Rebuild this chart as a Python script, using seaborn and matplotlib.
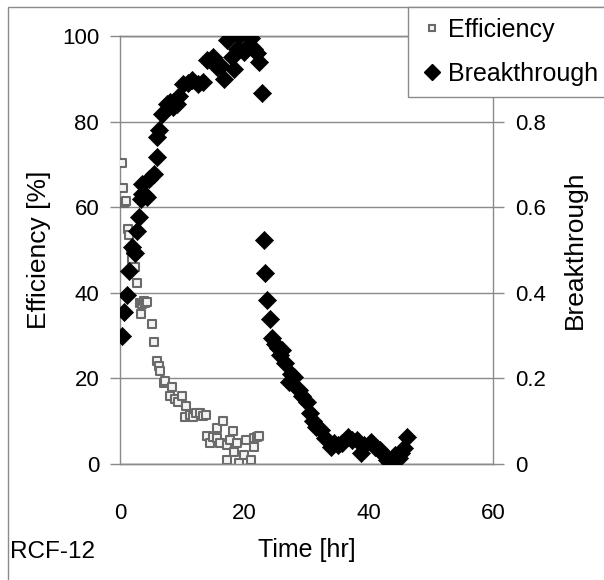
import matplotlib
matplotlib.use("Agg")
import matplotlib.pyplot as plt
import seaborn as sns
import pandas as pd
from matplotlib.patches import Rectangle
from matplotlib.lines import Line2D

# ---- data ----
eff_time = [0.3, 0.5, 0.6, 0.8, 1.0, 1.3, 1.5, 1.7, 2.0, 2.4, 2.8, 3.2, 3.5, 3.8, 4.1, 4.4,
            3.4, 5.1, 5.5, 5.9, 6.2, 6.45, 7.0, 7.3, 8.1, 8.3, 8.9, 9.4, 9.9, 10.6, 10.5,
            11.3, 11.8, 12.3, 12.8, 13.3, 13.8, 14.0, 14.5, 15.0, 15.6, 15.6, 16.1, 16.6,
            17.2, 17.2, 17.7, 18.2, 18.3, 18.8, 19.1, 19.9, 20.3, 21.0, 21.5, 21.6, 22.0, 22.3]
eff_val = [70.3, 64.4, 61.0, 61.3, 61.5, 54.9, 53.5, 50.0, 48.0, 46.0, 42.2, 37.6, 37.4, 38.0, 37.6, 37.8,
           35.0, 32.6, 28.6, 24.0, 23.0, 21.8, 19.0, 19.5, 15.9, 18.0, 15.2, 14.5, 15.9, 13.6, 11.0,
           11.5, 11.0, 11.8, 12.0, 11.2, 11.5, 6.5, 5.0, 6.2, 8.4, 6.0, 4.9, 10.0,
           4.4, 0.9, 5.6, 7.7, 2.9, 5.0, 0.2, 2.1, 5.6, 0.9, 4.0, 6.0, 6.4, 6.6]

bt_time = [0.3, 0.65, 1.1, 1.5, 2.0, 2.4, 2.8, 3.0, 3.3, 3.6, 4.0, 4.4, 3.5, 4.6, 5.4, 5.9,
           5.9, 6.3, 6.7, 7.5, 8.0, 8.5, 9.1, 9.5, 10.2, 11.0, 11.6, 12.6, 13.4, 14.0, 15.0,
           15.6, 16.3, 16.7, 17.2, 18.0, 18.3, 18.8, 19.1, 19.9, 20.5, 21.0, 21.5, 22.0, 22.3,
           22.8, 23.1, 23.4, 23.7, 24.1, 24.5, 25.0, 25.4, 25.8, 26.1, 26.6, 27.2, 27.5, 28.0,
           28.8, 29.3, 30.1, 30.6, 31.0, 31.5, 32.3, 33.0, 33.9, 34.5, 35.0, 35.7, 36.6, 37.3,
           38.2, 38.7, 39.3, 40.3, 41.0, 41.9, 42.5, 43.0, 43.5, 44.2, 44.8, 45.2, 45.7, 46.2]
bt_val = [0.30, 0.354, 0.395, 0.45, 0.508, 0.492, 0.544, 0.578, 0.62, 0.63, 0.628, 0.625, 0.654, 0.665, 0.678, 0.717,
          0.763, 0.78, 0.817, 0.84, 0.845, 0.835, 0.84, 0.86, 0.889, 0.89, 0.897, 0.889, 0.892, 0.944, 0.95,
          0.928, 0.93, 0.90, 0.99, 0.95, 0.924, 0.97, 1.0, 0.963, 0.975, 0.995, 0.97, 0.96, 0.94,
          0.866, 0.523, 0.447, 0.383, 0.339, 0.294, 0.28, 0.27, 0.255, 0.266, 0.235, 0.192, 0.21, 0.204,
          0.173, 0.16, 0.146, 0.118, 0.10, 0.087, 0.079, 0.06, 0.04, 0.05, 0.044, 0.05, 0.064, 0.055,
          0.056, 0.026, 0.045, 0.052, 0.04, 0.033, 0.02, 0.01, 0.002, 0.02, 0.015, 0.026, 0.037, 0.062]

x_ticks = [0, 20, 40, 60]
eff_ticks = [0, 20, 40, 60, 80, 100]
bt_ticks = [0, 0.2, 0.4, 0.6, 0.8]
bt_ticklabels = ["0", "0.2", "0.4", "0.6", "0.8"]

eff_df = pd.DataFrame({"time": eff_time, "val": eff_val})
bt_df = pd.DataFrame({"time": bt_time, "val": bt_val})

sns.set_style("white")
plt.rcParams["font.family"] = ["Liberation Sans", "DejaVu Sans"]
plt.rcParams["text.color"] = "black"
plt.rcParams["axes.labelcolor"] = "black"

GRAY = "#8a8a8a"
EDGE = "#6a6a6a"
fig = plt.figure(figsize=(6.04, 5.8), dpi=100)
ax = fig.add_axes([120/604, 1-464/580, (493-120)/604, (464-36)/580])
ax2 = ax.twinx()

sns.scatterplot(data=eff_df, x="time", y="val", ax=ax, marker="s", s=28,
                facecolor="#f4f4f4", edgecolor=EDGE, linewidth=1.5, zorder=3)
sns.scatterplot(data=bt_df, x="time", y="val", ax=ax2, marker="D", s=85,
                color="black", edgecolor="black", linewidth=0.5, zorder=3)

ax.set_xlim(0, 60)
ax.set_ylim(0, 100)
ax2.set_ylim(0, 1)
ax.set_xticks(x_ticks)
ax.set_yticks(eff_ticks)
ax2.set_yticks(bt_ticks)
ax2.set_yticklabels(bt_ticklabels)

ax.grid(axis="y", color=GRAY, linewidth=1)
ax.set_axisbelow(True)
for a in (ax, ax2):
    for s in a.spines.values():
        s.set_color(GRAY)
        s.set_linewidth(1)
ax.spines["right"].set_visible(False)
ax2.spines["left"].set_visible(False)

ax.tick_params(axis="x", direction="inout", length=10, width=1, color=GRAY,
               labelsize=16, pad=23, labelcolor="black")
ax.tick_params(axis="y", direction="out", length=7, width=1, color=GRAY,
               labelsize=16, pad=8, left=True, labelcolor="black")
ax2.tick_params(axis="y", direction="out", length=8, width=1, color=GRAY,
                labelsize=16, pad=8, right=True, labelcolor="black")

ax.set_xlabel("Time [hr]", fontsize=18, labelpad=10)
ax.set_ylabel("Efficiency [%]", fontsize=19, labelpad=8)
ax2.set_ylabel("Breakthrough", fontsize=19, labelpad=12)

# outer frame
fig.add_artist(Rectangle((8/604, -0.2), 1.5, 1 - 7/580 + 0.2, transform=fig.transFigure,
                         facecolor="none", edgecolor=GRAY, linewidth=1, clip_on=False))
# legend box
fig.add_artist(Rectangle((408/604, 1-97/580), 1.0, 90/580, transform=fig.transFigure,
                         facecolor="white", edgecolor=GRAY, linewidth=1, clip_on=False, zorder=5))
handles = [Line2D([], [], marker="s", linestyle="none", markersize=5,
                  markerfacecolor="#f4f4f4", markeredgecolor=EDGE, markeredgewidth=1.5),
           Line2D([], [], marker="D", linestyle="none", markersize=8,
                  color="black")]
leg = fig.legend(handles, ["Efficiency", "Breakthrough"], loc="upper left",
                 bbox_to_anchor=(422/604, 1-18/580), frameon=False, fontsize=18,
                 handlelength=0.8, handletextpad=0.25, labelspacing=0.8, borderaxespad=0,
                 borderpad=0)
leg.set_zorder(6)

fig.text(10/604, 1-552/580, "RCF-12", fontsize=17.5, va="center", ha="left")

fig.savefig("out.png", dpi=100)
